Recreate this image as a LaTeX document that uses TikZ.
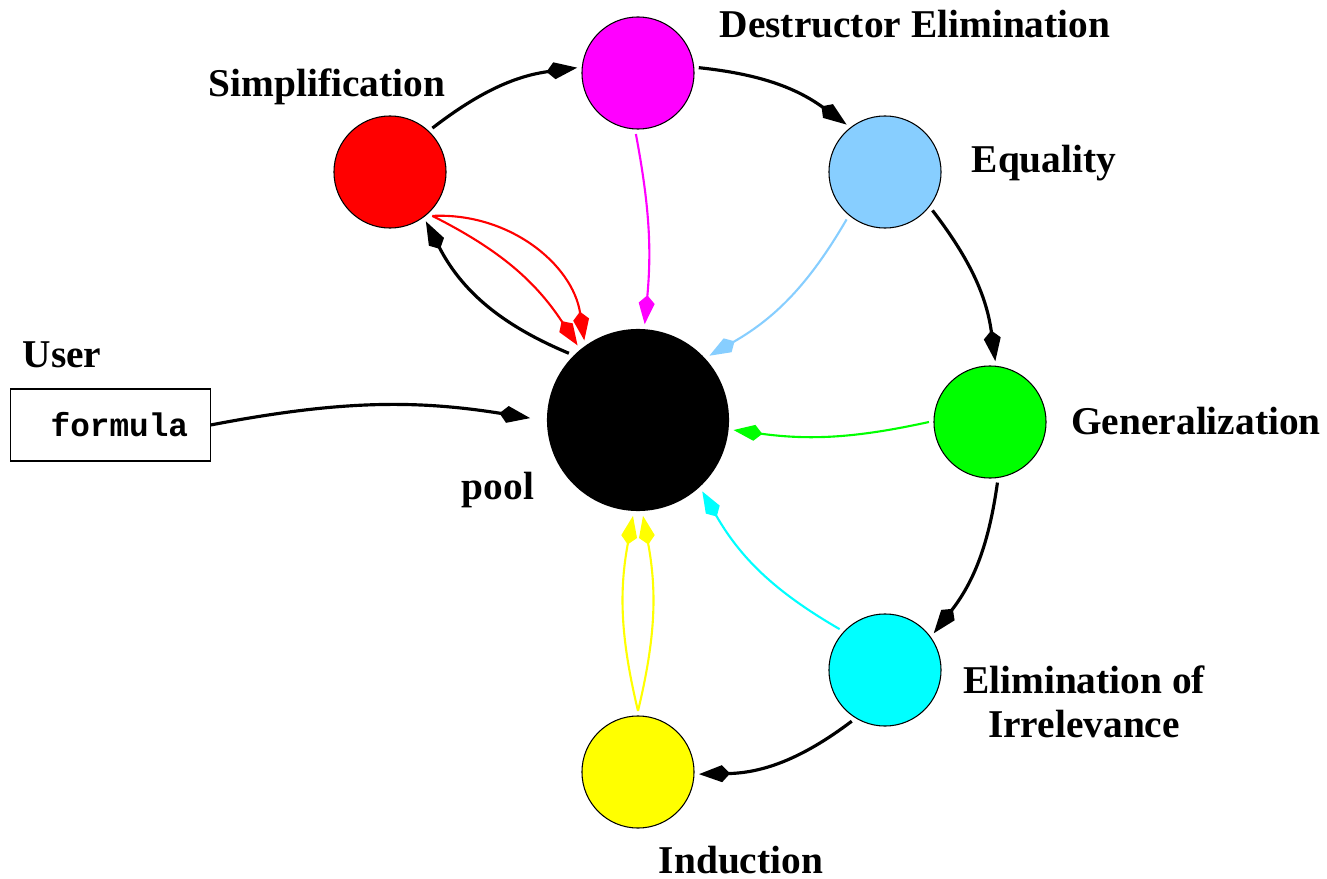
\documentclass[tikz,border=0pt]{standalone}
\usepackage{fontspec}
\setmainfont{Liberation Serif}
\setmonofont{Liberation Mono}
\usetikzlibrary{arrows.meta}
\definecolor{skyblue}{RGB}{135,206,255}
\definecolor{pmagenta}{RGB}{255,0,255}
\definecolor{pgreen}{RGB}{0,255,0}
\definecolor{pcyan}{RGB}{0,255,255}
\definecolor{pyellow}{RGB}{255,255,0}

\begin{document}
\begin{tikzpicture}[x=0.01cm, y=0.01cm,
    proc/.style={circle, draw, line width=0.3pt, minimum size=1.12cm, inner sep=0pt, outer sep=0.05cm},
    lbl/.style={font=\fontsize{11.2}{12.5}\selectfont\bfseries, align=center},
    ring/.style={line width=0.9pt, -{Kite[length=0.31cm, width=0.17cm, inset=0.08cm]}},
    feed/.style={line width=0.6pt, -{Kite[length=0.29cm, width=0.16cm, inset=0.08cm]}}]
    \useasboundingbox (0,0) rectangle (1327,878);

    % 円の描画
    \node[proc, fill=red] (simp) at (390,706) {};
    \node[proc, fill=pmagenta] (destr) at (638,805) {};
    \node[proc, fill=skyblue] (equal) at (885,706) {};
    \node[proc, fill=pgreen] (gen) at (990,456) {};
    \node[proc, fill=pcyan] (elim) at (885,208) {};
    \node[proc, fill=pyellow] (ind) at (638,106) {};
    \node[circle, fill=black, minimum size=1.82cm, inner sep=0pt, outer sep=0.05cm] (pool) at (638,458) {};
    \node[draw, line width=0.3pt, text width=1.55cm, inner xsep=0.22cm, align=right,
        minimum height=0.72cm, font=\fontsize{9.3}{11}\selectfont\ttfamily\bfseries] (formula) at (110.5,453) {formula};

    % ラベルの描画
    \node[lbl] (simplbl) at (327,791) {Simplification};
    \node[lbl] (destrlbl) at (915,854) {Destructor Elimination};
    \node[lbl] (equallbl) at (1044,715) {Equality};
    \node[lbl] (genlbl) at (1196,457) {Generalization};
    \node[lbl] (elimlbl) at (1084,176) {Elimination of\\Irrelevance};
    \node[lbl] (indlbl) at (741,18) {Induction};
    \node[lbl] (userlbl) at (62,523) {User};
    \node[lbl] (poollbl) at (498,388) {pool};

    % 外周の矢印
    \draw[ring] (simp.46) to[bend left=15] (destr.175);
    \draw[ring] (destr.5) to[bend left=15] (equal.129);
    \draw[ring] (equal.-39) to[bend left=15] (gen.85);
    \draw[ring] (gen.-83) to[bend left=15] (elim.37);
    \draw[ring] (elim.-123) to[bend left=18] (ind.-2);
    \draw[ring] (pool.136) to[bend left=20] (simp.-54);
    \draw[ring, shorten >=0.12cm] (formula.east) to[bend left=10] (pool.180);

    % poolへ戻る矢印
    \draw[feed, red] (simp.-46) to[bend left=15] (pool.129);
    \draw[feed, red] (simp.-46) to[bend left=42] (pool.124);
    \draw[feed, pmagenta] (destr.-92) to[bend left=8] (pool.86);
    \draw[feed, skyblue] (equal.-129) to[bend left=15] (pool.42);
    \draw[feed, pgreen] (gen.180) to[bend left=10] (pool.-6);
    \draw[feed, pcyan] (elim.138) to[bend left=15] (pool.-48);
    \draw[feed, pyellow] (ind.90) to[bend left=12] (pool.-93);
    \draw[feed, pyellow] (ind.90) to[bend right=12] (pool.-87);

\end{tikzpicture}
\end{document}
